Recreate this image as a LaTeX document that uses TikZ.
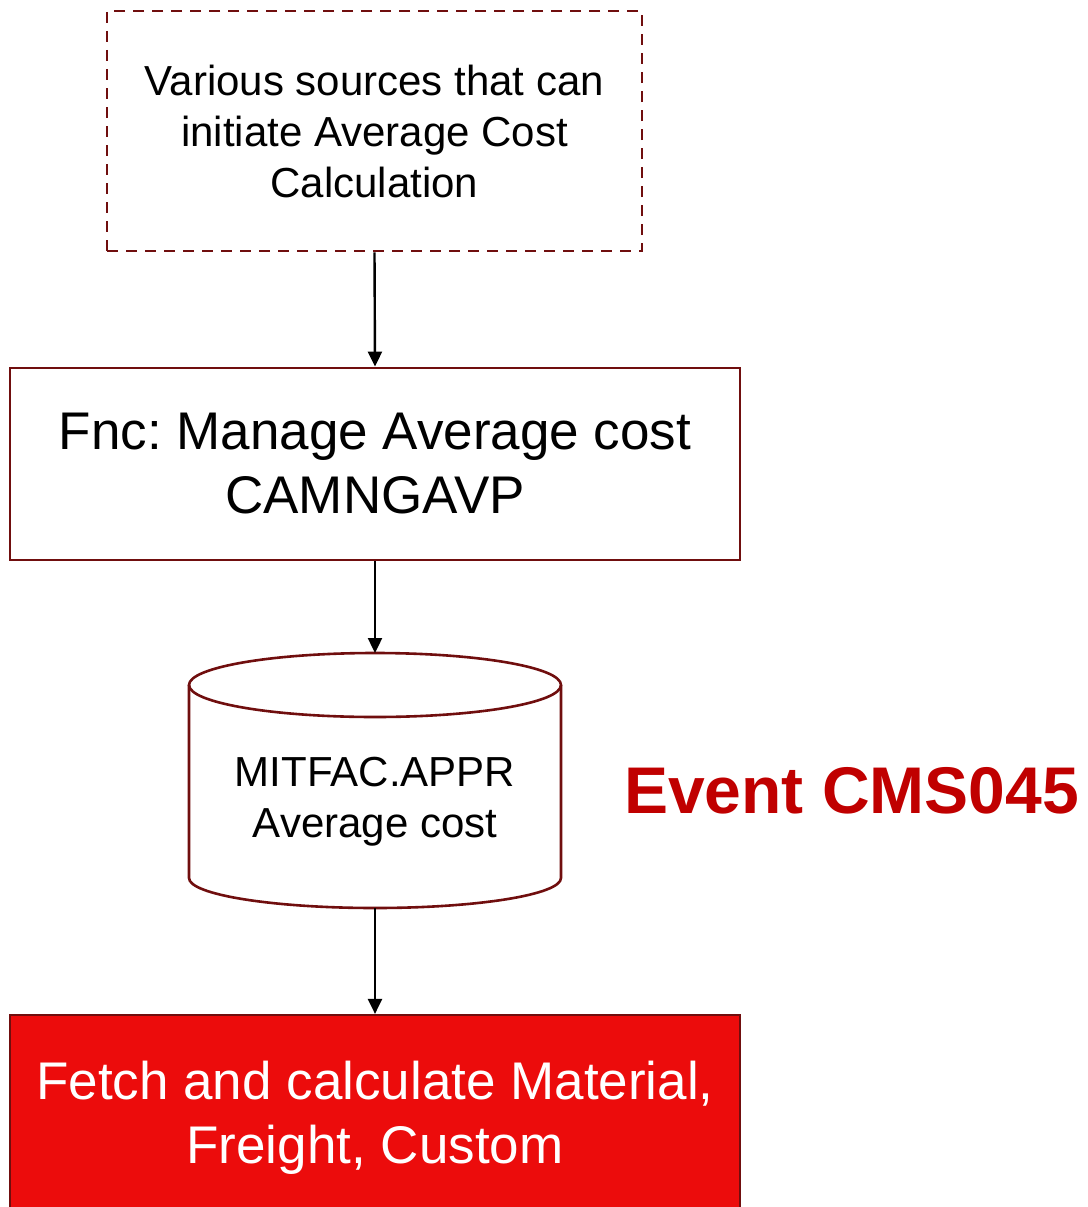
\documentclass[tikz,border=0pt]{standalone}
\usepackage{fontspec}
\setmainfont{Liberation Sans}
\usetikzlibrary{arrows.meta}
\definecolor{frame}{RGB}{112,14,14}
\definecolor{alertfill}{RGB}{236,12,12}
\definecolor{eventred}{RGB}{192,0,0}
\frenchspacing

\begin{document}
\begin{tikzpicture}[x=1pt,y=-1pt,
  box/.style={rectangle,draw=frame,line width=2.8pt,inner sep=0pt,align=center},
  flow/.style={draw=black,line width=2.4pt,-{Triangle[length=15pt,width=14pt]}},
  txtS/.style={font=\fontsize{42}{51}\selectfont},
  txtL/.style={font=\fontsize{53}{64}\selectfont},
]
\useasboundingbox (0,0) rectangle (1087,1207);

% sources box (dashed)
\node[box,txtS,dash pattern=on 11pt off 8pt,minimum width=535pt,minimum height=240pt]
  (src) at (374.5,131) {Various sources that can\\initiate Average Cost\\Calculation};

% function box
\node[box,txtL,minimum width=730pt,minimum height=192pt]
  (mng) at (375,464) {Fnc: Manage Average cost\\CAMNGAVP};

% database cylinder
\fill[white] (189,685) -- (189,878) arc[start angle=180,end angle=0,x radius=186,y radius=30] -- (561,685) -- cycle;
\draw[frame,line width=2.6pt] (189,685) -- (189,878)
  arc[start angle=180,end angle=0,x radius=186,y radius=30] -- (561,685);
\draw[frame,line width=2.6pt] (375,685) ellipse[x radius=186,y radius=32];
\coordinate (dbtop) at (375,653);
\coordinate (dbbot) at (375,908);
\node[txtS,align=center,inner sep=0pt] (db) at (375,802) {MITFAC.APPR\\Average cost};

% result box
\node[box,txtL,fill=alertfill,text=white,line width=2.2pt,minimum width=730pt,minimum height=206pt]
  (fetch) at (375,1118) {Fetch and calculate Material,\\Freight, Custom};

% event label
\node[anchor=base west,inner sep=0pt,text=eventred,font=\fontsize{66}{78}\selectfont\bfseries]
  (event) at (624,813) {Event CMS045};

% connectors
\draw[flow] (src.south) -- (mng.north);
\draw[flow] (mng.south) -- (dbtop);
\draw[flow] (dbbot) -- (fetch.north);
\end{tikzpicture}
\end{document}
